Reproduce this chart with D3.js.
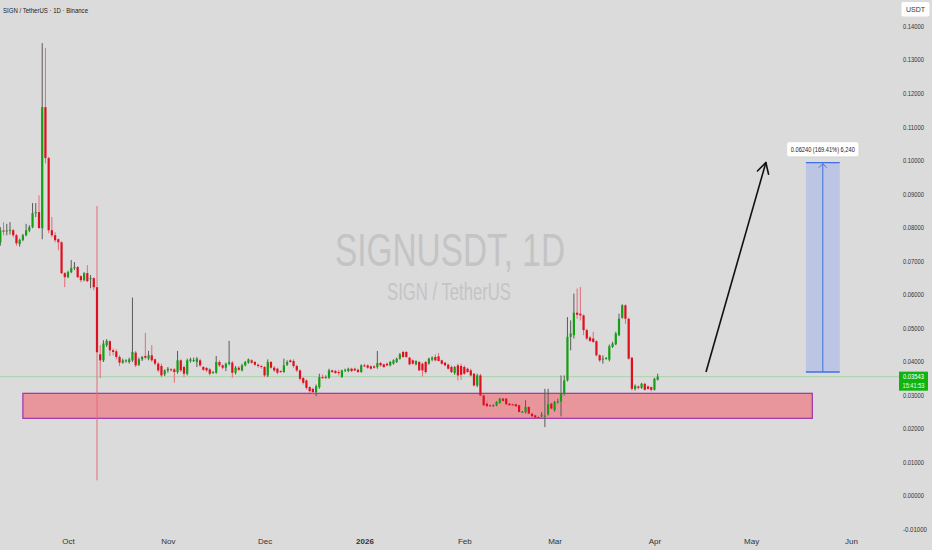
<!DOCTYPE html>
<html><head><meta charset="utf-8">
<script src="https://cdn.jsdelivr.net/npm/d3@7"></script>
<style>html,body{margin:0;padding:0;background:#dbdbdb;}svg{display:block}</style>
</head><body><svg id="c" width="932" height="550"></svg>
<script>
// ---- data (SIGN/USDT daily, from 2025-09-10) ----
const firstDay = "2025-09-10";
const open = [
0.0755,0.0790,0.0788,0.0790,0.0791,0.0776,0.0750,0.0762,0.0776,0.0790,
0.0800,0.0842,0.0845,0.0797,0.1158,0.1006,0.0791,0.0776,0.0764,0.0755,
0.0663,0.0651,0.0666,0.0678,0.0681,0.0654,0.0642,0.0663,0.0646,0.0648,
0.0621,0.0421,0.0403,0.0448,0.0460,0.0433,0.0430,0.0413,0.0396,0.0401,
0.0398,0.0403,0.0426,0.0390,0.0406,0.0416,0.0408,0.0418,0.0406,0.0393,
0.0386,0.0361,0.0373,0.0376,0.0376,0.0368,0.0403,0.0383,0.0363,0.0401,
0.0403,0.0398,0.0403,0.0383,0.0380,0.0376,0.0366,0.0366,0.0398,0.0388,
0.0381,0.0393,0.0396,0.0366,0.0381,0.0373,0.0388,0.0396,0.0403,0.0398,
0.0390,0.0386,0.0383,0.0358,0.0398,0.0381,0.0378,0.0371,0.0368,0.0390,
0.0403,0.0401,0.0386,0.0373,0.0350,0.0343,0.0323,0.0318,0.0308,0.0323,
0.0353,0.0351,0.0351,0.0373,0.0371,0.0368,0.0353,0.0373,0.0371,0.0378,
0.0378,0.0375,0.0368,0.0388,0.0388,0.0385,0.0385,0.0383,0.0395,0.0391,
0.0393,0.0388,0.0393,0.0398,0.0408,0.0428,0.0428,0.0411,0.0403,0.0391,
0.0398,0.0393,0.0398,0.0393,0.0405,0.0413,0.0415,0.0403,0.0396,0.0390,
0.0383,0.0365,0.0388,0.0386,0.0383,0.0378,0.0373,0.0363,0.0328,0.0358,
0.0298,0.0274,0.0269,0.0268,0.0269,0.0276,0.0289,0.0289,0.0274,0.0272,
0.0272,0.0269,0.0249,0.0249,0.0264,0.0244,0.0239,0.0234,0.0236,0.0236,
0.0242,0.0274,0.0254,0.0279,0.0280,0.0303,0.0343,0.0473,0.0478,0.0545,
0.0542,0.0537,0.0493,0.0471,0.0468,0.0460,0.0418,0.0406,0.0408,0.0405,
0.0443,0.0451,0.0478,0.0530,0.0567,0.0527,0.0411,0.0318,0.0325,0.0321,
0.0333,0.0325,0.0323,0.0315,0.0345];
const high = [
0.0800,0.0815,0.0810,0.0815,0.0795,0.0780,0.0766,0.0780,0.0810,0.0806,
0.0872,0.0872,0.0895,0.1349,0.1334,0.1010,0.0830,0.0785,0.0766,0.0758,
0.0666,0.0670,0.0702,0.0696,0.0684,0.0657,0.0666,0.0687,0.0657,0.0651,
0.0863,0.0448,0.0463,0.0466,0.0463,0.0438,0.0436,0.0418,0.0408,0.0406,
0.0411,0.0590,0.0431,0.0411,0.0416,0.0485,0.0431,0.0448,0.0408,0.0398,
0.0393,0.0376,0.0383,0.0380,0.0380,0.0431,0.0406,0.0388,0.0408,0.0411,
0.0411,0.0413,0.0408,0.0386,0.0383,0.0380,0.0371,0.0416,0.0403,0.0391,
0.0396,0.0461,0.0401,0.0386,0.0386,0.0393,0.0401,0.0408,0.0406,0.0401,
0.0393,0.0388,0.0386,0.0406,0.0401,0.0386,0.0381,0.0373,0.0408,0.0403,
0.0406,0.0406,0.0390,0.0376,0.0353,0.0346,0.0326,0.0321,0.0331,0.0363,
0.0361,0.0358,0.0378,0.0375,0.0375,0.0375,0.0375,0.0378,0.0381,0.0381,
0.0381,0.0378,0.0391,0.0393,0.0391,0.0388,0.0388,0.0431,0.0398,0.0393,
0.0396,0.0401,0.0406,0.0411,0.0425,0.0431,0.0430,0.0413,0.0406,0.0403,
0.0401,0.0396,0.0401,0.0411,0.0415,0.0421,0.0425,0.0405,0.0398,0.0393,
0.0388,0.0386,0.0393,0.0393,0.0388,0.0381,0.0378,0.0365,0.0363,0.0363,
0.0301,0.0284,0.0272,0.0272,0.0281,0.0291,0.0291,0.0291,0.0276,0.0274,
0.0274,0.0271,0.0252,0.0284,0.0266,0.0246,0.0241,0.0237,0.0249,0.0318,
0.0318,0.0277,0.0282,0.0289,0.0358,0.0358,0.0532,0.0522,0.0602,0.0617,
0.0622,0.0540,0.0497,0.0475,0.0488,0.0463,0.0421,0.0418,0.0413,0.0450,
0.0458,0.0488,0.0542,0.0570,0.0570,0.0530,0.0413,0.0331,0.0328,0.0336,
0.0336,0.0328,0.0325,0.0351,0.0363];
const low = [
0.0745,0.0776,0.0776,0.0778,0.0770,0.0745,0.0742,0.0758,0.0773,0.0785,
0.0797,0.0830,0.0797,0.0764,0.0990,0.0782,0.0770,0.0755,0.0731,0.0660,
0.0621,0.0648,0.0663,0.0672,0.0648,0.0636,0.0639,0.0636,0.0618,0.0612,
0.0045,0.0350,0.0398,0.0443,0.0416,0.0418,0.0406,0.0386,0.0393,0.0396,
0.0393,0.0398,0.0383,0.0386,0.0401,0.0406,0.0403,0.0398,0.0388,0.0368,
0.0353,0.0356,0.0366,0.0370,0.0336,0.0363,0.0368,0.0353,0.0358,0.0396,
0.0398,0.0383,0.0383,0.0371,0.0368,0.0358,0.0363,0.0363,0.0383,0.0376,
0.0371,0.0388,0.0351,0.0361,0.0371,0.0370,0.0385,0.0393,0.0393,0.0386,
0.0381,0.0378,0.0353,0.0353,0.0378,0.0368,0.0361,0.0366,0.0366,0.0386,
0.0396,0.0381,0.0368,0.0343,0.0331,0.0316,0.0306,0.0301,0.0296,0.0318,
0.0348,0.0348,0.0348,0.0366,0.0363,0.0358,0.0351,0.0368,0.0368,0.0368,
0.0371,0.0366,0.0366,0.0383,0.0378,0.0375,0.0378,0.0378,0.0385,0.0381,
0.0385,0.0385,0.0390,0.0395,0.0405,0.0410,0.0410,0.0388,0.0390,0.0388,
0.0371,0.0355,0.0363,0.0390,0.0400,0.0400,0.0400,0.0390,0.0385,0.0375,
0.0365,0.0360,0.0343,0.0345,0.0360,0.0366,0.0355,0.0325,0.0323,0.0296,
0.0266,0.0264,0.0264,0.0264,0.0266,0.0274,0.0280,0.0270,0.0267,0.0266,
0.0263,0.0247,0.0246,0.0244,0.0242,0.0234,0.0230,0.0228,0.0232,0.0204,
0.0238,0.0256,0.0250,0.0274,0.0236,0.0298,0.0340,0.0433,0.0468,0.0527,
0.0522,0.0478,0.0463,0.0458,0.0455,0.0415,0.0398,0.0393,0.0405,0.0400,
0.0440,0.0448,0.0475,0.0527,0.0512,0.0405,0.0313,0.0313,0.0316,0.0318,
0.0313,0.0315,0.0310,0.0313,0.0343];
const close = [
0.0791,0.0788,0.0790,0.0792,0.0776,0.0752,0.0762,0.0776,0.0791,0.0800,
0.0842,0.0845,0.0797,0.1158,0.1006,0.0791,0.0776,0.0761,0.0755,0.0663,
0.0651,0.0666,0.0678,0.0681,0.0651,0.0642,0.0663,0.0639,0.0648,0.0621,
0.0427,0.0403,0.0453,0.0461,0.0433,0.0428,0.0413,0.0396,0.0403,0.0403,
0.0406,0.0428,0.0388,0.0406,0.0413,0.0411,0.0418,0.0403,0.0393,0.0373,
0.0358,0.0373,0.0378,0.0373,0.0368,0.0403,0.0373,0.0363,0.0403,0.0406,
0.0404,0.0408,0.0388,0.0375,0.0373,0.0363,0.0368,0.0398,0.0388,0.0381,
0.0393,0.0398,0.0366,0.0381,0.0375,0.0388,0.0398,0.0406,0.0396,0.0390,
0.0386,0.0383,0.0358,0.0398,0.0381,0.0373,0.0366,0.0368,0.0388,0.0398,
0.0398,0.0386,0.0373,0.0348,0.0336,0.0321,0.0311,0.0308,0.0326,0.0353,
0.0351,0.0353,0.0373,0.0368,0.0365,0.0366,0.0373,0.0375,0.0378,0.0371,
0.0373,0.0368,0.0388,0.0386,0.0381,0.0378,0.0381,0.0395,0.0388,0.0383,
0.0388,0.0398,0.0403,0.0408,0.0421,0.0413,0.0413,0.0391,0.0393,0.0401,
0.0373,0.0373,0.0368,0.0408,0.0411,0.0403,0.0401,0.0393,0.0388,0.0378,
0.0368,0.0383,0.0358,0.0360,0.0363,0.0368,0.0358,0.0328,0.0358,0.0298,
0.0269,0.0266,0.0268,0.0269,0.0279,0.0289,0.0282,0.0272,0.0269,0.0269,
0.0266,0.0249,0.0250,0.0264,0.0244,0.0236,0.0232,0.0233,0.0241,0.0238,
0.0272,0.0259,0.0279,0.0280,0.0303,0.0343,0.0473,0.0483,0.0545,0.0539,
0.0537,0.0493,0.0468,0.0461,0.0458,0.0418,0.0403,0.0408,0.0410,0.0445,
0.0453,0.0483,0.0527,0.0567,0.0527,0.0408,0.0318,0.0327,0.0321,0.0333,
0.0315,0.0318,0.0315,0.0348,0.03543];

const monthTicks = ["2025-10-01","2025-11-01","2025-12-01","2026-01-01","2026-02-01","2026-03-01","2026-04-01","2026-05-01","2026-06-01"];
const monthLabels = ["Oct","Nov","Dec","2026","Feb","Mar","Apr","May","Jun"];
const priceTicks = [0.14,0.13,0.12,0.11,0.10,0.09,0.08,0.07,0.06,0.05,0.04,0.03,0.02,0.01,0.00,-0.01];
const lastPrice = 0.03543, lastTime = "15:41:53";
const zoneDates = ["2025-09-17","2026-05-20"], zonePrices = [0.03045, 0.0230];
const arrowDates = ["2026-04-17T00:00:00Z","2026-05-05T14:00:00Z"], arrowPrices = [0.0368, 0.0993];
const measureDates = ["2026-05-18","2026-05-28T12:00:00Z"], measurePrices = [0.036834, 0.099234];
const measureLabel = "0.06240 (169.41%) 6,240";
const titleText = "SIGN / TetherUS · 1D · Binance";
const wmMain = "SIGNUSDT, 1D", wmSub = "SIGN / TetherUS";

// ---- chart ----
const svg = d3.select("#c");
const W = 932, H = 550;
const FONT = "Liberation Sans, Arial, sans-serif";
const pd = s => new Date(s.length === 10 ? s + "T00:00:00Z" : s);
const x = d3.scaleUtc().domain([pd("2025-10-01"), pd("2026-06-01")]).range([68, 851]);
const y = d3.scaleLinear().domain([-0.01, 0.14]).range([529, 26]);
const t0 = pd(firstDay);
const candles = open.map((o, i) => ({ date: d3.utcDay.offset(t0, i), o, h: high[i], l: low[i], c: close[i] }));

svg.append("rect").attr("width", W).attr("height", H).attr("fill", "#dbdbdb");

// watermark
svg.append("text").attr("x", 450).attr("y", 266).attr("text-anchor", "middle")
  .attr("font-family", FONT).attr("font-size", 46)
  .attr("fill", "#c4c4c4").attr("textLength", 230).attr("lengthAdjust", "spacingAndGlyphs").text(wmMain);
svg.append("text").attr("x", 449).attr("y", 300).attr("text-anchor", "middle")
  .attr("font-family", FONT).attr("font-size", 23)
  .attr("fill", "#c4c4c4").attr("textLength", 124).attr("lengthAdjust", "spacingAndGlyphs").text(wmSub);

// pink support zone
svg.append("rect")
  .attr("x", x(pd(zoneDates[0]))).attr("y", y(zonePrices[0]))
  .attr("width", x(pd(zoneDates[1])) - x(pd(zoneDates[0])))
  .attr("height", y(zonePrices[1]) - y(zonePrices[0]))
  .attr("fill", "#e8969c").attr("stroke", "#a23cae").attr("stroke-width", 1.3);

// current price line
svg.append("line").attr("x1", 0).attr("x2", 899).attr("y1", y(lastPrice)).attr("y2", y(lastPrice))
  .attr("stroke", "#a9d3a9").attr("stroke-width", 1);

// candles
const bw = 2.2;
const g = svg.append("g");
g.selectAll("line.w").data(candles).join("line").attr("class", "w")
  .attr("x1", d => x(d.date)).attr("x2", d => x(d.date))
  .attr("y1", d => y(d.h)).attr("y2", d => y(d.l))
  .attr("stroke", d => d.c >= d.o ? "#5a5a5a" : "#e56a78").attr("stroke-width", 1);
g.selectAll("rect.b").data(candles).join("rect").attr("class", "b")
  .attr("x", d => x(d.date) - bw / 2).attr("width", bw)
  .attr("y", d => y(Math.max(d.o, d.c)))
  .attr("height", d => Math.max(1, Math.abs(y(d.o) - y(d.c))))
  .attr("fill", d => d.c >= d.o ? "#14a014" : "#de0f1e");

// black trend arrow
const ax1 = x(pd(arrowDates[0])), ay1 = y(arrowPrices[0]);
const ax2 = x(pd(arrowDates[1])), ay2 = y(arrowPrices[1]);
svg.append("line").attr("x1", ax1).attr("y1", ay1).attr("x2", ax2).attr("y2", ay2)
  .attr("stroke", "#111").attr("stroke-width", 1.6);
{
  const ang = Math.atan2(ay1 - ay2, ax1 - ax2), L = 12, sp = 0.5;
  [ang - sp, ang + sp].forEach(a => {
    svg.append("line").attr("x1", ax2).attr("y1", ay2)
      .attr("x2", ax2 + L * Math.cos(a)).attr("y2", ay2 + L * Math.sin(a))
      .attr("stroke", "#111").attr("stroke-width", 1.6).attr("stroke-linecap", "round");
  });
}

// measurement box
const mx1 = x(pd(measureDates[0])), mx2 = x(pd(measureDates[1]));
const my1 = y(measurePrices[1]), my2 = y(measurePrices[0]);
svg.append("rect").attr("x", mx1).attr("y", my1).attr("width", mx2 - mx1).attr("height", my2 - my1)
  .attr("fill", "#bcc5e4");
svg.append("line").attr("x1", mx1).attr("x2", mx2).attr("y1", my1).attr("y2", my1).attr("stroke", "#3f6fe3").attr("stroke-width", 1.3);
svg.append("line").attr("x1", mx1).attr("x2", mx2).attr("y1", my2).attr("y2", my2).attr("stroke", "#3f6fe3").attr("stroke-width", 1.6);
const mxc = (mx1 + mx2) / 2;
svg.append("line").attr("x1", mxc).attr("x2", mxc).attr("y1", my2).attr("y2", my1 + 1).attr("stroke", "#3f6fe3").attr("stroke-width", 1);
svg.append("path").attr("d", `M${mxc - 4},${my1 + 5}L${mxc},${my1 + 1}L${mxc + 4},${my1 + 5}`)
  .attr("fill", "none").attr("stroke", "#3f6fe3").attr("stroke-width", 1);
// label
svg.append("rect").attr("x", mxc - 36).attr("y", my1 - 21).attr("width", 72).attr("height", 15).attr("rx", 2.5)
  .attr("fill", "#ffffff").attr("stroke", "#cfcfcf").attr("stroke-width", 0.5);
svg.append("text").attr("x", mxc).attr("y", my1 - 11).attr("text-anchor", "middle")
  .attr("font-family", FONT).attr("font-size", 7.5)
  .attr("fill", "#222").attr("textLength", 64).attr("lengthAdjust", "spacingAndGlyphs").text(measureLabel);

// right price axis (labels right-aligned, width compressed)
const yAxis = svg.append("g").attr("transform", "translate(924,0)")
  .call(d3.axisRight(y).tickValues(priceTicks).tickSize(0).tickPadding(0).tickFormat(d => d.toFixed(5)));
yAxis.select(".domain").remove();
yAxis.selectAll("text").attr("font-family", FONT)
  .attr("font-size", 7.5).attr("fill", "#333")
  .attr("text-anchor", "end").attr("x", d => d < 0 ? 3 : 0)
  .attr("textLength", d => d < 0 ? 24 : 21).attr("lengthAdjust", "spacingAndGlyphs");

// bottom time axis
const xAxis = svg.append("g").attr("transform", "translate(0,538)")
  .call(d3.axisBottom(x).tickValues(monthTicks.map(pd)).tickSize(0).tickPadding(0).tickFormat((d, i) => monthLabels[i]));
xAxis.select(".domain").remove();
xAxis.selectAll("text").attr("font-family", FONT)
  .attr("font-size", 8).attr("fill", "#333")
  .attr("font-weight", (d, i) => monthLabels[i] === "2026" ? "bold" : "normal");

// last price label
const ly = y(lastPrice);
svg.append("rect").attr("x", 899).attr("y", ly - 5).attr("width", 29).attr("height", 19).attr("fill", "#10b410");
svg.append("text").attr("x", 903).attr("y", ly + 2.5).attr("font-family", FONT)
  .attr("font-size", 7.5).attr("fill", "#fff").attr("textLength", 21).attr("lengthAdjust", "spacingAndGlyphs").text(lastPrice.toFixed(5));
svg.append("text").attr("x", 902.5).attr("y", ly + 11).attr("font-family", FONT)
  .attr("font-size", 7).attr("fill", "#eaffea").attr("textLength", 22).attr("lengthAdjust", "spacingAndGlyphs").text(lastTime);

// USDT badge
svg.append("rect").attr("x", 901.5).attr("y", 2).attr("width", 28).attr("height", 14.5).attr("rx", 2).attr("fill", "#fff");
svg.append("text").attr("x", 915.5).attr("y", 12).attr("text-anchor", "middle")
  .attr("font-family", FONT).attr("font-size", 7).attr("fill", "#333").text("USDT");

// title
svg.append("text").attr("x", 3).attr("y", 12.5)
  .attr("font-family", FONT).attr("font-size", 8).attr("fill", "#222")
  .attr("textLength", 85).attr("lengthAdjust", "spacingAndGlyphs").text(titleText);
</script></body></html>
